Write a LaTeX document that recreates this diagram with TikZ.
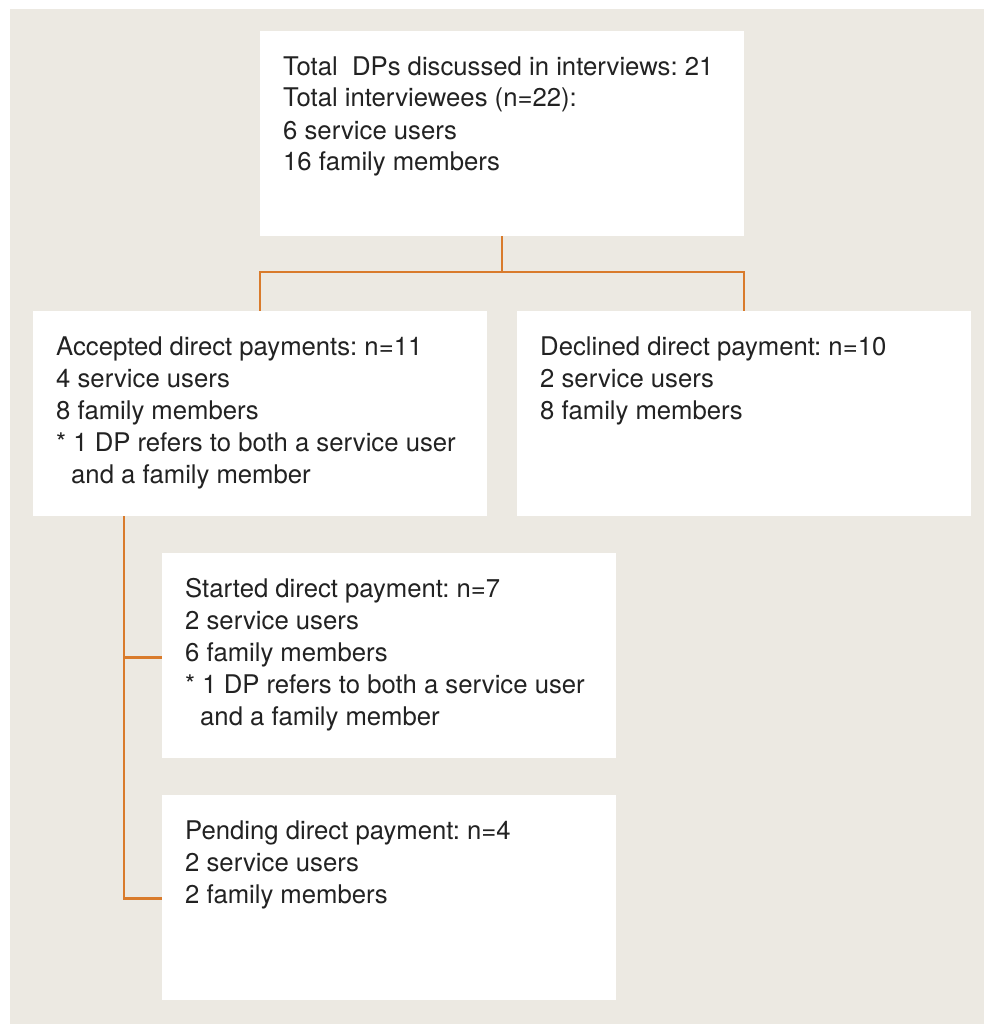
\documentclass[tikz,border=0pt]{standalone}
\usepackage{fontspec}
\setmainfont{TeX Gyre Heros}
\frenchspacing
\definecolor{bgc}{HTML}{ECE9E2}
\definecolor{connc}{HTML}{D97B2C}
\definecolor{txtc}{HTML}{222222}
\begin{document}
\begin{tikzpicture}[x=1pt,y=-1pt,
  box/.style={fill=white,draw=none,inner sep=0,outer sep=0,anchor=north west,minimum width=454pt,minimum height=205pt},
  conn/.style={draw=connc,line width=2.6pt},
  txt/.style={anchor=base west,inner sep=0,text=txtc,font=\fontsize{25.7}{32}\selectfont}]
\useasboundingbox (0,0) rectangle (984,1025);
\fill[bgc] (10,9) rectangle (984,1024);
% boxes
\node[box,minimum width=484pt] (b0) at (260,31) {};
\node[box] (b1) at (33,311) {};
\node[box] (b2) at (517,311) {};
\node[box] (b3) at (162,553) {};
\node[box] (b4) at (162,795) {};
% texts
\node[txt] (t0) at ([xshift=23pt,yshift=-44pt]b0.north west) {\vtop{\hbox{Total\ \ DPs discussed in interviews: 21}\hbox{Total interviewees (n=22):}\hbox{6 service users}\hbox{16 family members}}};
\node[txt] (t1) at ([xshift=23pt,yshift=-44pt]b1.north west) {\vtop{\hbox{Accepted direct payments: n=11}\hbox{4 service users}\hbox{8 family members}\hbox{* 1 DP refers to both a service user}\hbox{\hspace*{15pt}and a family member}}};
\node[txt] (t2) at ([xshift=23pt,yshift=-44pt]b2.north west) {\vtop{\hbox{Declined direct payment: n=10}\hbox{2 service users}\hbox{8 family members}}};
\node[txt] (t3) at ([xshift=23pt,yshift=-44pt]b3.north west) {\vtop{\hbox{Started direct payment: n=7}\hbox{2 service users}\hbox{6 family members}\hbox{* 1 DP refers to both a service user}\hbox{\hspace*{15pt}and a family member}}};
\node[txt] (t4) at ([xshift=23pt,yshift=-44pt]b4.north west) {\vtop{\hbox{Pending direct payment: n=4}\hbox{2 service users}\hbox{2 family members}}};
% connectors
\draw[conn] (b0.south) -- ++(0,36) coordinate (j);
\draw[conn] (j) -| (b1.north);
\draw[conn] (j) -| (b2.north);
\coordinate (a) at ([xshift=91pt]b1.south west);
\draw[conn] (a) |- ([yshift=-2pt]b3.west);
\draw[conn] (a) |- ([yshift=-1pt]b4.west);
\end{tikzpicture}
\end{document}
